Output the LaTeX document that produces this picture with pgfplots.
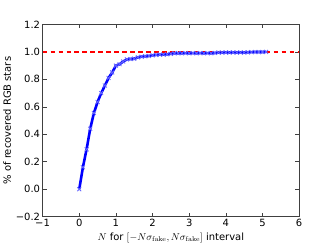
\documentclass[border=0pt]{standalone}
\usepackage[no-math]{fontspec}
\setmainfont{DejaVu Sans}
\usepackage{pgfplots}
\pgfplotsset{compat=1.18}
\begin{document}
\fontsize{10}{12}\selectfont
\begin{tikzpicture}
\begin{axis}[
  scale only axis,
  width=257.5pt, height=193pt,
  xmin=-1, xmax=6, ymin=-0.2, ymax=1.2,
  xtick={-1,0,1,2,3,4,5,6},
  xticklabels={−1,0,1,2,3,4,5,6},
  ytick={-0.2,0,0.2,0.4,0.6,0.8,1.0,1.2},
  yticklabels={−0.2,0.0,0.2,0.4,0.6,0.8,1.0,1.2},
  tick align=inside,
  major tick length=4pt,
  axis line style={black!75, line width=0.8pt},
  every tick/.style={black!75, line width=0.6pt},
  tick label style={font=\fontsize{10}{12}\selectfont},
  xticklabel style={yshift=1pt},
  yticklabel style={xshift=1pt},
  xlabel={$N$ for $[-N\sigma_{\rm fake}, N\sigma_{\rm fake}]$ interval},
  ylabel={\% of recovered RGB stars},
  label style={font=\fontsize{10}{12}\selectfont},
  xlabel style={yshift=1pt},
  ylabel style={yshift=-2pt},
  clip=false,
]
\addplot[draw=red, color=red, line width=1.4pt, dash pattern=on 4.5pt off 3.5pt, forget plot] coordinates {(-1,1.0) (6,1.0)};
\addplot[draw=blue, color=blue, line width=2.6pt, mark=x, mark size=2.8pt, mark options={draw=blue!60, solid, line width=0.8pt}] coordinates {
(0.0,0.000) (0.1,0.160) (0.2,0.290) (0.3,0.440) (0.4,0.555) (0.5,0.635)
(0.6,0.700) (0.7,0.755) (0.8,0.810) (0.9,0.850) (1.0,0.900) (1.1,0.910)
(1.2,0.930) (1.3,0.945) (1.4,0.948) (1.5,0.950) (1.6,0.960) (1.7,0.965)
(1.8,0.968) (1.9,0.970) (2.0,0.975) (2.1,0.978) (2.2,0.980) (2.3,0.980)
(2.4,0.982) (2.5,0.986) (2.6,0.990) (2.7,0.990) (2.8,0.990) (2.9,0.991)
(3.0,0.990) (3.1,0.991) (3.2,0.990) (3.3,0.991) (3.4,0.990) (3.5,0.991)
(3.6,0.990) (3.7,0.992) (3.8,0.995) (3.9,0.995) (4.0,0.996) (4.1,0.995)
(4.2,0.996) (4.3,0.995) (4.4,0.996) (4.5,0.995) (4.6,0.997) (4.7,0.998)
(4.8,0.999) (4.9,0.999) (5.0,0.999) (5.1,1.000)
};
\coordinate (bl) at (rel axis cs:-0.1612,-0.1632);
\coordinate (tr) at (rel axis cs:1.1282,1.1269);
\end{axis}
\useasboundingbox (bl) rectangle (tr);
\end{tikzpicture}
\end{document}
